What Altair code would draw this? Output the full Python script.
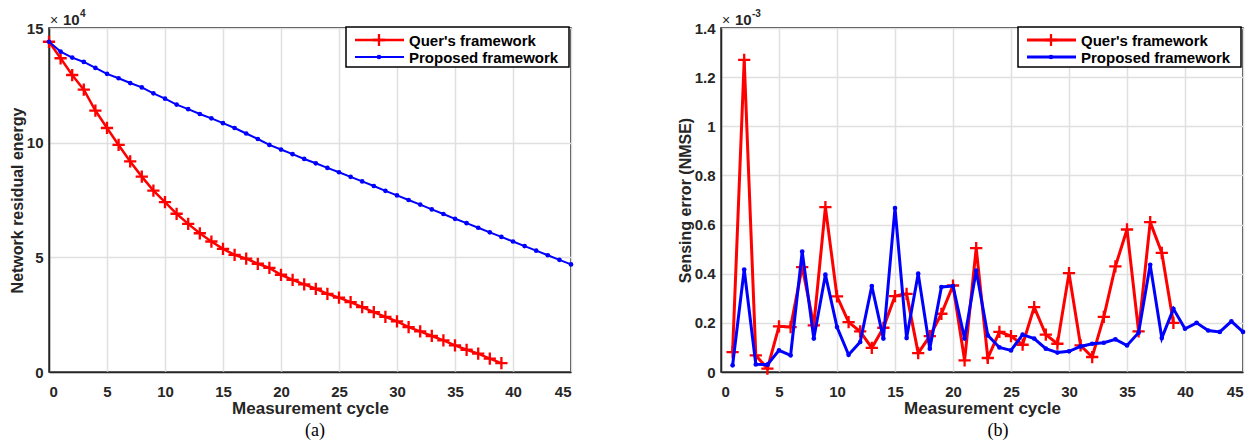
import altair as alt
import pandas as pd

# ---------------- data ----------------
# Panel (a): network residual energy, x 10^4
cycles_a_quer = list(range(0, 40))
energy_quer = [14.40, 13.68, 12.95, 12.31, 11.40, 10.64, 9.90, 9.18, 8.52, 7.91,
               7.41, 6.90, 6.46, 6.05, 5.69, 5.37, 5.11, 4.94, 4.72, 4.54,
               4.24, 4.02, 3.82, 3.63, 3.41, 3.24, 3.05, 2.83, 2.61, 2.40,
               2.21, 1.96, 1.77, 1.57, 1.38, 1.16, 0.97, 0.80, 0.58, 0.39]
cycles_a_prop = list(range(0, 46))
energy_prop = [14.40, 13.97, 13.71, 13.52, 13.26, 13.00, 12.81, 12.60, 12.41, 12.15,
               11.92, 11.66, 11.46, 11.25, 11.06, 10.85, 10.64, 10.40, 10.16, 9.90,
               9.70, 9.50, 9.29, 9.10, 8.90, 8.71, 8.51, 8.31, 8.11, 7.90,
               7.70, 7.50, 7.30, 7.09, 6.89, 6.68, 6.49, 6.29, 6.09, 5.89,
               5.69, 5.49, 5.29, 5.09, 4.89, 4.69]

# Panel (b): sensing error (NMSE), x 10^-3
cycles_b_quer = list(range(1, 40))
nmse_quer = [0.081, 1.27, 0.068, 0.014, 0.186, 0.183, 0.427, 0.190, 0.671, 0.308,
             0.203, 0.165, 0.098, 0.180, 0.309, 0.318, 0.077, 0.146, 0.237, 0.352,
             0.047, 0.504, 0.057, 0.163, 0.146, 0.111, 0.264, 0.152, 0.115, 0.402,
             0.108, 0.061, 0.224, 0.430, 0.580, 0.165, 0.610, 0.485, 0.200]
cycles_b_prop = list(range(1, 46))
nmse_prop = [0.027, 0.417, 0.031, 0.030, 0.088, 0.068, 0.490, 0.136, 0.396, 0.183,
             0.070, 0.122, 0.350, 0.136, 0.667, 0.138, 0.400, 0.095, 0.346, 0.350,
             0.136, 0.413, 0.149, 0.100, 0.088, 0.152, 0.136, 0.095, 0.079, 0.084,
             0.104, 0.115, 0.119, 0.133, 0.108, 0.160, 0.436, 0.138, 0.257, 0.176,
             0.200, 0.169, 0.163, 0.206, 0.163]

series_names = ["Quer's framework", "Proposed framework"]
x_ticks = [0, 5, 10, 15, 20, 25, 30, 35, 40, 45]
y_ticks_a = [0, 5, 10, 15]
y_ticks_b = [0, 0.2, 0.4, 0.6, 0.8, 1.0, 1.2, 1.4]

RED = "#ff0000"
BLUE = "#0000ff"
FONT = "Liberation Sans"
TXT = "#262626"
W, H = 522, 344
PLUS = "M-1,0L1,0M0,-1L0,1"


def panel(xq, yq, xp, yp, ymax, yticks, ytitle, exp_sup, caption, cap_x, red_w, blue_w):
    dq = pd.DataFrame({"x": xq, "y": yq})
    dp = pd.DataFrame({"x": xp, "y": yp})
    xs = alt.Scale(domain=[0, 45], nice=False, zero=False)
    ys = alt.Scale(domain=[0, ymax], nice=False)
    xax = alt.Axis(values=x_ticks, title="Measurement cycle", grid=True)
    yax = alt.Axis(values=yticks, title=ytitle, grid=True, format="~g")
    X = alt.X("x:Q", scale=xs, axis=xax)
    Y = alt.Y("y:Q", scale=ys, axis=yax)

    red_line = alt.Chart(dq).mark_line(color=RED, strokeWidth=red_w).encode(x=X, y=Y)
    red_pts = alt.Chart(dq).mark_point(shape=PLUS, filled=False, color=RED, size=150,
                                       strokeWidth=2.3, opacity=1).encode(x=X, y=Y)
    blue_line = alt.Chart(dp).mark_line(color=BLUE, strokeWidth=blue_w).encode(x=X, y=Y)
    blue_pts = alt.Chart(dp).mark_circle(color=BLUE, size=22, opacity=1).encode(x=X, y=Y)

    one = pd.DataFrame({"label": [""]})
    box = alt.Chart(one).mark_rect(fill="white", stroke="black", strokeWidth=1.5).encode(
        x=alt.value(297), x2=alt.value(520), y=alt.value(-1), y2=alt.value(39))
    legend_layers = [box]
    rows = [(series_names[0], RED, 12, red_w), (series_names[1], BLUE, 29, blue_w)]
    for name, col, yy, lw in rows:
        d = pd.DataFrame({"label": [name]})
        legend_layers.append(alt.Chart(d).mark_rule(color=col, strokeWidth=lw).encode(
            x=alt.value(306), x2=alt.value(355), y=alt.value(yy)))
        if col == RED:
            legend_layers.append(alt.Chart(d).mark_point(shape=PLUS, filled=False, color=RED,
                                                         size=150, strokeWidth=2.3, opacity=1).encode(
                x=alt.value(330), y=alt.value(yy)))
        else:
            legend_layers.append(alt.Chart(d).mark_circle(color=BLUE, size=22, opacity=1).encode(
                x=alt.value(330), y=alt.value(yy)))
        legend_layers.append(alt.Chart(d).mark_text(align="left", baseline="middle", font=FONT,
                                                    fontSize=15, fontWeight="bold", color="black").encode(
            x=alt.value(360), y=alt.value(yy + 1), text="label:N"))

    e = pd.DataFrame({"s": [exp_sup]})
    times = alt.Chart(e).mark_text(align="left", baseline="alphabetic", font=FONT, fontSize=14,
                                   color=TXT).encode(x=alt.value(1), y=alt.value(-3), text=alt.value("×"))
    ten = alt.Chart(e).mark_text(align="left", baseline="alphabetic", font=FONT, fontSize=15,
                                 fontWeight="bold", color=TXT).encode(
        x=alt.value(14), y=alt.value(-3), text=alt.value("10"))
    sup = alt.Chart(e).mark_text(align="left", baseline="alphabetic", font=FONT, fontSize=10,
                                 fontWeight="bold", color=TXT).encode(
        x=alt.value(31), y=alt.value(-11), text="s:N")

    c = pd.DataFrame({"c": [caption]})
    cap = alt.Chart(c).mark_text(align="center", baseline="middle", font="Liberation Serif",
                                 fontSize=18, color="black").encode(
        x=alt.value(cap_x), y=alt.value(403), text="c:N")

    return alt.layer(red_line, red_pts, blue_line, blue_pts, *legend_layers,
                     times, ten, sup, cap).properties(width=W, height=H)


left = panel(cycles_a_quer, energy_quer, cycles_a_prop, energy_prop, 15, y_ticks_a,
             "Network residual energy", "4", "(a)", 266, 2.5, 2)
right = panel(cycles_b_quer, nmse_quer, cycles_b_prop, nmse_prop, 1.4, y_ticks_b,
              "Sensing error (NMSE)", "-3", "(b)", 277, 3, 3)

chart = alt.hconcat(left, right, spacing=100).properties(
    padding=0
).configure_view(
    stroke="black", strokeWidth=1.5
).configure_axis(
    labelFont=FONT, labelFontSize=15, labelFontWeight="bold", labelColor=TXT,
    titleFont=FONT, titleFontSize=16, titleFontWeight="bold", titleColor=TXT,
    domainColor="#262626", domainWidth=1.5, tickSize=0,
    gridColor="#e0e0e0", gridWidth=1.5, gridOpacity=1,
).configure_axisX(labelPadding=12, titlePadding=1, titleFontSize=17
).configure_axisY(labelPadding=6, titlePadding=1)

chart.save("out.html", embed_options={"renderer": "svg", "actions": False})
